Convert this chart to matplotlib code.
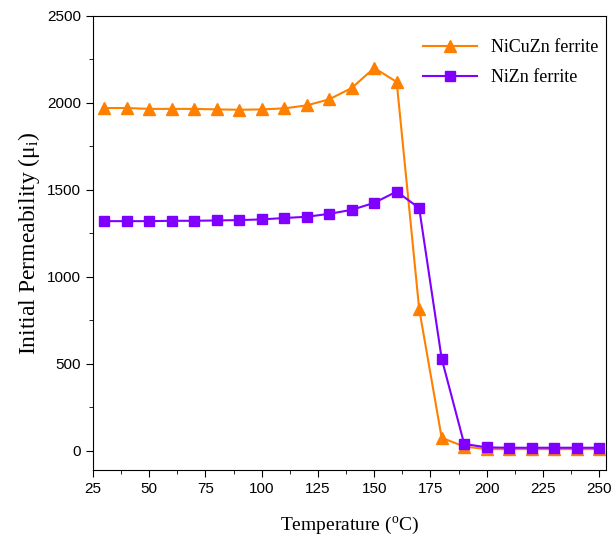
import numpy as np
import matplotlib
matplotlib.use('Agg')
import matplotlib.pyplot as plt
from matplotlib.ticker import MultipleLocator

temp = [30, 40, 50, 60, 70, 80, 90, 100, 110, 120, 130, 140, 150, 160, 170, 180, 190, 200, 210, 220, 230, 240, 250]
nicuzn = [1970, 1970, 1965, 1965, 1965, 1962, 1960, 1962, 1968, 1985, 2020, 2085, 2200, 2120, 815, 75, 25, 10, 10, 10, 10, 10, 10]
nizn = [1320, 1320, 1320, 1322, 1322, 1324, 1326, 1330, 1338, 1345, 1362, 1385, 1425, 1490, 1395, 530, 40, 20, 18, 18, 18, 18, 18]

fig = plt.figure(figsize=(6.12, 5.44), dpi=100)
ax = fig.add_axes([0.152, 0.136, 0.838, 0.835])

ax.plot(temp, nicuzn, color='#ff8000', marker='^', markersize=9, lw=1.5, label='NiCuZn ferrite')
ax.plot(temp, nizn, color='#8000ff', marker='s', markersize=7.5, lw=1.5, label='NiZn ferrite')

ax.set_xlim(25, 253)
ax.set_ylim(-110, 2500)
ax.xaxis.set_major_locator(MultipleLocator(25))
ax.xaxis.set_minor_locator(MultipleLocator(12.5))
ax.yaxis.set_major_locator(MultipleLocator(500))
ax.yaxis.set_minor_locator(MultipleLocator(250))
ax.tick_params(which='both', direction='out', labelsize=11)
ax.tick_params(which='major', length=5)
ax.tick_params(which='minor', length=3)
for lab in ax.get_xticklabels() + ax.get_yticklabels():
    lab.set_family('Liberation Sans')

ax.set_xlabel('Temperature ($\\mathregular{^{o}}$C)', family='Liberation Serif', fontsize=14, labelpad=14)
ax.set_ylabel('Initial Permeability ($\\mathregular{\\mu_i}$)', family='Liberation Serif', fontsize=17, labelpad=4)

leg = ax.legend(loc='upper right', bbox_to_anchor=(1.0, 0.965), frameon=False,
                prop={'family': 'Liberation Serif', 'size': 13},
                handlelength=3, borderaxespad=0, labelspacing=0.75)

fig.savefig('out.png', dpi=100)
